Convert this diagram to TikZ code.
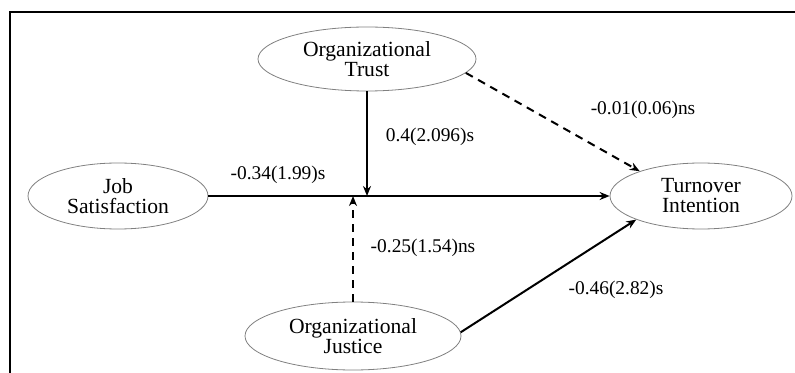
\documentclass[tikz,border=0pt]{standalone}
\usepackage{fontspec}
\setmainfont{Liberation Serif}
\usetikzlibrary{shapes.geometric,arrows.meta}
\tikzset{
  latent/.style   = { draw=gray, thin, ellipse, inner sep=0pt, align=center,
                      font=\fontsize{10.8}{10}\selectfont },
  effect/.style   = { line width=1pt, black, -{Stealth[length=5pt,width=4pt]} },
  noeffect/.style = { effect, dash pattern=on 4pt off 3pt },
  coef/.style     = { font=\fontsize{9.7}{11}\selectfont, inner sep=0pt }
}

\begin{document}
\begin{tikzpicture}[x=0.5pt,y=-0.5pt]
  \useasboundingbox (0,0) rectangle (795,373);
  % Draw frame
  \draw[line width=1.2pt] (10,373) -- (10,12) -- (795,12);
  % Draw all constructs
  \node[latent, minimum width=109pt, minimum height=32pt] (trust) at (367,59) {Organizational\\Trust};
  \node[latent, minimum width=90pt, minimum height=33pt] (job) at (118,196) {Job\\Satisfaction};
  \node[latent, minimum width=91pt, minimum height=33pt] (turnover) at (701,196) {Turnover\\Intention};
  \node[latent, minimum width=108pt, minimum height=34pt] (justice) at (353,336) {Organizational\\Justice};
  % Draw all paths
  \draw[effect] (job) -- (turnover);
  \draw[effect] (trust) -- (trust.south |- job.east);
  \draw[noeffect] (justice) -- (justice.north |- job.east);
  \draw[noeffect] (trust.-8) -- (turnover.158);
  \draw[effect] (justice.2) -- (turnover.200);
  % Draw labels
  \node[coef] (cjob) at (278,175) {-0.34(1.99)s};
  \node[coef] (ctrust) at (430,137) {0.4(2.096)s};
  \node[coef] (cjust) at (423,248) {-0.25(1.54)ns};
  \node[coef] (cdirect) at (643,110) {-0.01(0.06)ns};
  \node[coef] (cjustto) at (616,290) {-0.46(2.82)s};
\end{tikzpicture}
\end{document}
